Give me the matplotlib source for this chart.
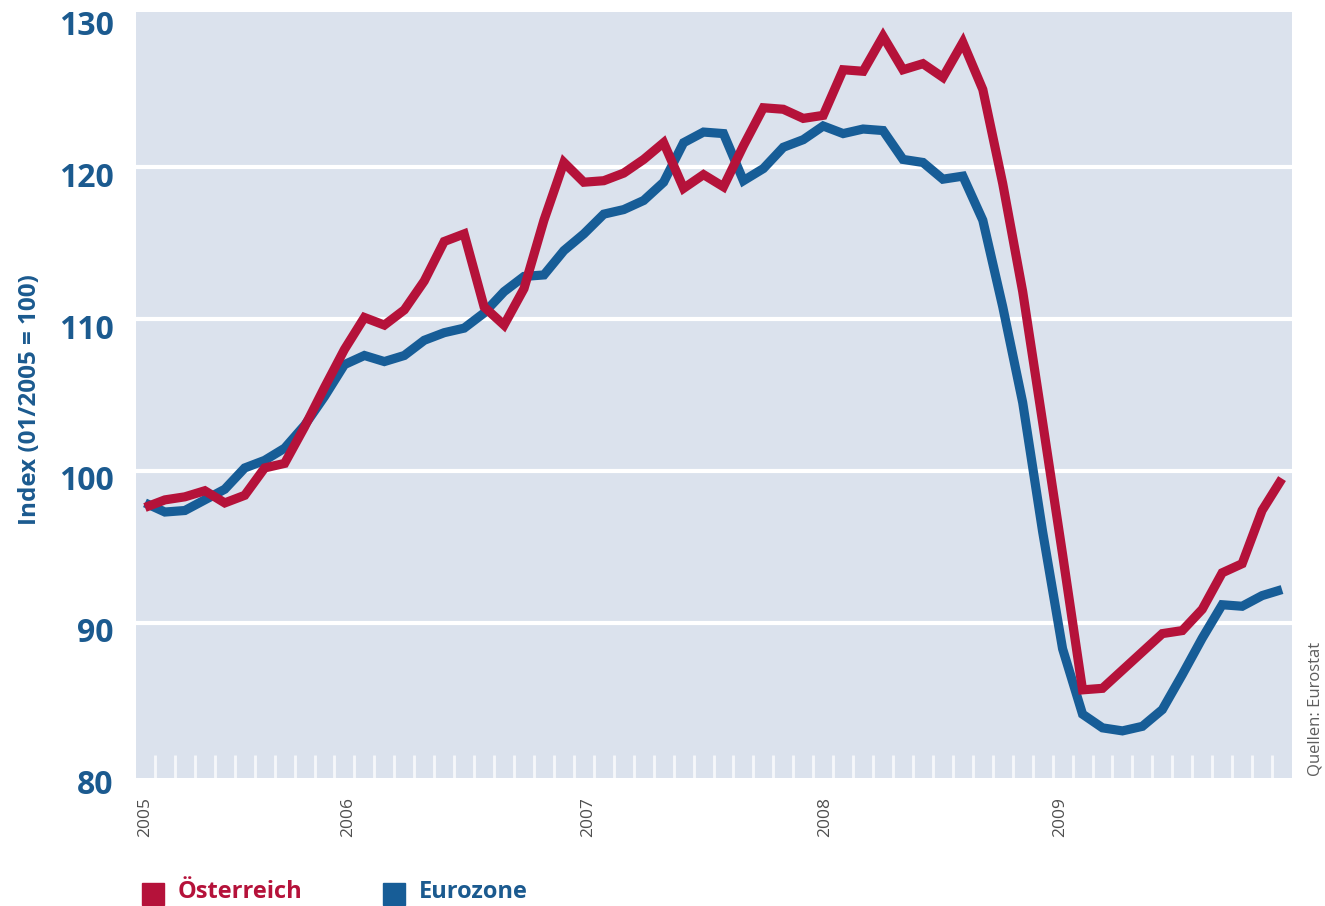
import matplotlib
matplotlib.use("Agg")
import matplotlib.pyplot as plt
import matplotlib.transforms as mtransforms
import numpy as np

# Monthly index values (01/2005 = 100)
oesterreich = [
    97.6, 98.1, 98.3, 98.7, 97.9, 98.4, 100.2, 100.5, 102.9, 105.5,
    108.0, 110.1, 109.6, 110.6, 112.5, 115.1, 115.6, 110.8, 109.6, 112.0,
    116.5, 120.3, 119.0, 119.1, 119.6, 120.5, 121.6, 118.6, 119.5, 118.7,
    121.4, 123.9, 123.8, 123.2, 123.4, 126.4, 126.3, 128.6, 126.4, 126.8,
    125.9, 128.2, 125.1, 118.9, 111.8, 103.2, 94.5, 85.6, 85.7, 86.9,
    88.1, 89.3, 89.5, 90.9, 93.3, 93.9, 97.4, 99.5,
]
eurozone = [
    97.9, 97.3, 97.4, 98.1, 98.8, 100.2, 100.7, 101.5, 103.0, 104.9,
    107.0, 107.6, 107.2, 107.6, 108.6, 109.1, 109.4, 110.4, 111.8, 112.8,
    112.9, 114.5, 115.6, 116.9, 117.2, 117.8, 119.0, 121.6, 122.3, 122.2,
    119.1, 119.9, 121.3, 121.8, 122.7, 122.2, 122.5, 122.4, 120.5, 120.3,
    119.2, 119.4, 116.5, 110.8, 104.5, 96.0, 88.3, 84.0, 83.1, 82.9,
    83.2, 84.3, 86.6, 89.0, 91.2, 91.1, 91.8, 92.2,
]
years = ["2005", "2006", "2007", "2008", "2009"]
y_ticks = [80, 90, 100, 110, 120, 130]
series_names = ["Österreich", "Eurozone"]

# Layout constants
year_label_pos = [0, 10.2, 22.2, 34.1, 45.9]
RED = "#b5123a"
BLUE = "#175d97"
TEXT_BLUE = "#1b5a8f"
BG = "#dbe2ed"
FONT = "Open Sans"

W, H = 1325, 906
fig = plt.figure(figsize=(W / 100, H / 100), dpi=100)
fig.patch.set_facecolor("white")
ax = fig.add_axes([136 / W, 1 - 778 / H, (1292 - 136) / W, (778 - 12) / H])
ax.set_facecolor(BG)

x = np.arange(len(oesterreich))
n = len(x)

# white horizontal grid
for v in y_ticks[1:-1]:
    ax.axhline(v, color="white", lw=3, zorder=1)

# small white month markers along the bottom
tick_x = np.arange(n - 1) + 0.5
ax.vlines(tick_x, 79.8, 81.3, color="white", lw=2.0, alpha=0.75, zorder=1)

ax.plot(x, eurozone, color=BLUE, lw=6.6, solid_joinstyle="miter",
        solid_capstyle="butt", zorder=3)
ax.plot(x, oesterreich, color=RED, lw=6.6, solid_joinstyle="miter",
        solid_capstyle="butt", zorder=4)

ax.set_xlim(-0.45, n - 0.5)
ax.set_ylim(79.8, 130.2)

for s in ax.spines.values():
    s.set_visible(False)

ax.set_yticks(y_ticks)
ax.set_yticklabels([str(v) for v in y_ticks])
ax.tick_params(axis="y", length=0, pad=16, labelcolor=TEXT_BLUE)
for lab in ax.get_yticklabels():
    lab.set_fontfamily(FONT)
    lab.set_fontweight("bold")
    lab.set_fontsize(23)
    lab.set_transform(lab.get_transform() +
                      mtransforms.ScaledTranslation(0, -0.07, fig.dpi_scale_trans))

ax.set_xticks(year_label_pos)
ax.set_xticklabels(years, rotation=90, va="top", ha="center")
ax.tick_params(axis="x", length=0, pad=14, labelcolor="#4f4f4f")
for lab in ax.get_xticklabels():
    lab.set_fontfamily(FONT)
    lab.set_fontsize(12.5)

fig.text(30 / W, 1 - 400 / H, "Index (01/2005 = 100)", rotation=90,
         ha="center", va="center", color=TEXT_BLUE, fontsize=17.5,
         fontweight="bold", family=FONT)

fig.text(1316 / W, 1 - 776 / H, "Quellen: Eurostat", rotation=90,
         ha="center", va="bottom", color="#5e5e5e", fontsize=12, family=FONT)

# legend
sq = 22
for (x0, name, col, tcol) in [(142, series_names[0], RED, RED),
                              (383, series_names[1], BLUE, TEXT_BLUE)]:
    fig.patches.append(plt.Rectangle((x0 / W, 1 - 905 / H), sq / W, sq / H,
                                     transform=fig.transFigure, color=col))
    fig.text((x0 + 36) / W, 1 - 892 / H, name, ha="left", va="center",
             color=tcol, fontsize=17, fontweight="bold", family=FONT)

fig.savefig("out.png", dpi=100, facecolor="white")
